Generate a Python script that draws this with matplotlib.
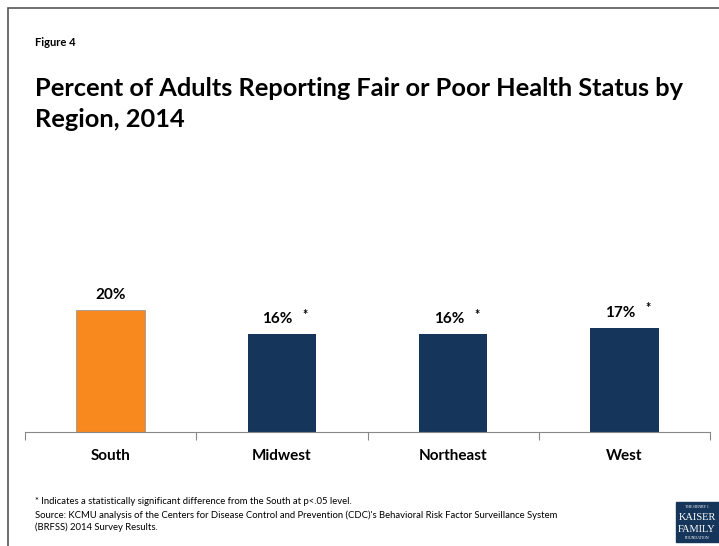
import matplotlib
matplotlib.use("Agg")
from matplotlib import pyplot as plt
from matplotlib.patches import Rectangle

regions = ["South", "Midwest", "Northeast", "West"]
values = [20, 16, 16, 17]
labels = ["20%", "16%", "16%", "17%"]
stars = ["", "*", "*", "*"]
colors = ["#F7891E", "#15355A", "#15355A", "#15355A"]

plt.rcParams['font.family'] = ['Lato', 'DejaVu Sans']

fig = plt.figure(figsize=(7.19, 5.46), dpi=100)

# frame around the slide
fig.patches.append(Rectangle((8 / 719, -0.01), 1.0, 1 - 8 / 546 + 0.01,
                             transform=fig.transFigure, fill=False,
                             edgecolor="#555555", linewidth=1.2))

fig.text(35 / 719, 1 - 43 / 546, "Figure 4", fontsize=8, fontweight="bold", va="center")
fig.text(35 / 719, 1 - 104 / 546,
         "Percent of Adults Reporting Fair or Poor Health Status by\nRegion, 2014",
         fontsize=18.3, fontweight="bold", va="center", linespacing=1.4)

ax = fig.add_axes([25 / 719, 1 - 432 / 546, 685 / 719, 300 / 546])
x = range(len(regions))
bars = ax.bar(x, values, width=0.4, color=colors, edgecolor=["#9a9a9a", "none", "none", "none"],
              linewidth=0.6)
ax.set_xlim(-0.5, len(regions) - 0.5)
ax.set_ylim(0, 300 / 6.1)

for b, lab, st in zip(bars, labels, stars):
    cx = b.get_x() + b.get_width() / 2
    top = b.get_height()
    dx = -3 if st else 0
    ax.annotate(lab, (cx, top), xytext=(dx, 6), textcoords="offset points",
                ha="center", va="bottom", fontsize=11, fontweight="bold")
    if st:
        ax.annotate(st, (cx, top), xytext=(15, 10), textcoords="offset points",
                    ha="left", va="bottom", fontsize=9, fontweight="bold")

for s in ["top", "right", "left"]:
    ax.spines[s].set_visible(False)
ax.spines["bottom"].set_color("#888888")
ax.set_yticks([])
ax.set_xticks([i - 0.5 for i in range(len(regions) + 1)], minor=False)
ax.set_xticklabels([""] * (len(regions) + 1))
ax.tick_params(axis="x", length=6, color="#888888", direction="out")
for i, r in enumerate(regions):
    ax.annotate(r, (i, 0), xytext=(0, -17), textcoords="offset points",
                ha="center", va="center", fontsize=11, fontweight="bold")

fig.text(35 / 719, 1 - 501 / 546,
         "* Indicates a statistically significant difference from the South at p<.05 level.",
         fontsize=6.8, va="center")
fig.text(35 / 719, 1 - 510 / 546,
         "Source: KCMU analysis of the Centers for Disease Control and Prevention (CDC)'s "
         "Behavioral Risk Factor Surveillance System\n(BRFSS) 2014 Survey Results.",
         fontsize=6.8, va="top", linespacing=1.45)

# logo
fig.patches.append(Rectangle((676 / 719, 1 - 542 / 546), 43 / 719, 40 / 546,
                             transform=fig.transFigure, color="#15355A"))
fig.text(697 / 719, 1 - 507 / 546, "THE HENRY J.", color="white", fontsize=2.8,
         ha="center", va="center", family="Liberation Serif")
fig.text(697 / 719, 1 - 518 / 546, "KAISER", color="white", fontsize=7.5,
         ha="center", va="center", family="Liberation Serif")
fig.text(697 / 719, 1 - 529 / 546, "FAMILY", color="white", fontsize=7.5,
         ha="center", va="center", family="Liberation Serif")
fig.text(697 / 719, 1 - 538 / 546, "FOUNDATION", color="white", fontsize=2.8,
         ha="center", va="center", family="Liberation Serif")

fig.savefig("out.png", dpi=100)
